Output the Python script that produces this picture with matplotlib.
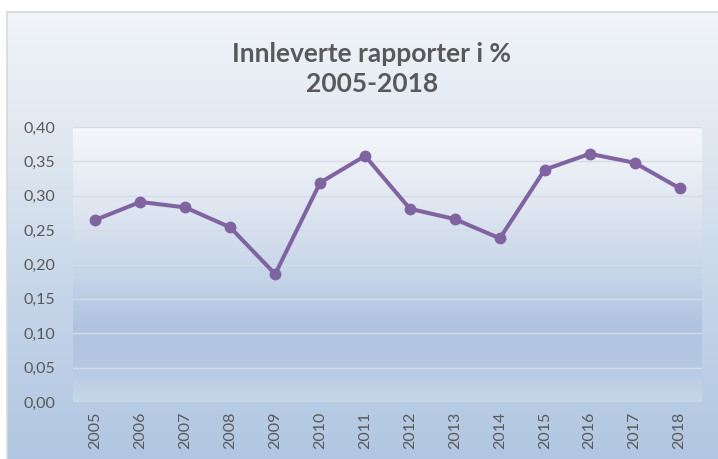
import numpy as np
import matplotlib
matplotlib.use('Agg')
import matplotlib.pyplot as plt
from matplotlib.colors import LinearSegmentedColormap

years = [str(y) for y in range(2005, 2019)]
values = [0.265, 0.291, 0.283, 0.254, 0.186, 0.319, 0.358,
          0.281, 0.266, 0.238, 0.338, 0.361, 0.348, 0.311]
yticks = [0.00, 0.05, 0.10, 0.15, 0.20, 0.25, 0.30, 0.35, 0.40]
ytick_labels = ["0,00", "0,05", "0,10", "0,15", "0,20", "0,25", "0,30", "0,35", "0,40"]
title = "Innleverte rapporter i %\n2005-2018"

W, H = 718, 459
fig = plt.figure(figsize=(W / 100, H / 100), dpi=100)
fig.patch.set_facecolor('white')

# outer chart area with gradient
bg = fig.add_axes([7 / W, 0, 1 - 7 / W, 447 / H], zorder=0)
grad = np.linspace(0, 1, 256).reshape(-1, 1)
cmap_bg = LinearSegmentedColormap.from_list('bg', ['#f1f4f9', '#dde6f0', '#c3d4e8', '#b1c7e1'])
bg.imshow(grad, aspect='auto', cmap=cmap_bg, extent=[0, 1, 0, 1], interpolation='bicubic')
bg.set_xlim(0, 1)
bg.set_ylim(0, 1)
bg.set_xticks([])
bg.set_yticks([])
for name, s in bg.spines.items():
    if name in ('left', 'top'):
        s.set_color('#d9d9d9')
        s.set_linewidth(1.2)
    else:
        s.set_visible(False)

# plot area
ax = fig.add_axes([73 / W, 1 - 402 / H, (702 - 73) / W, (402 - 127) / H], zorder=1)
ax.set_facecolor('none')
cmap_pa = LinearSegmentedColormap.from_list(
    'pa', [(0.0, '#f5f7fa'), (0.25, '#e2e9f2'), (0.55, '#c5d4e8'), (0.72, '#b0c4e0'),
           (0.85, '#b4c7e2'), (1.0, '#c7d7ea')])
ax.imshow(grad, aspect='auto', cmap=cmap_pa, extent=[0, 1, 0, 1],
          transform=ax.transAxes, zorder=0, interpolation='bicubic')

x = np.arange(len(years))
ax.plot(x, values, color='#8064a2', linewidth=2.9, marker='o', markersize=7.5,
        markerfacecolor='#8064a2', markeredgecolor='#8064a2', zorder=3,
        solid_joinstyle='round')

ax.set_xlim(-0.5, len(years) - 0.5)
ax.set_ylim(0, 0.40)
ax.set_yticks(yticks)
ax.set_yticklabels(ytick_labels)
ax.set_xticks(x)
ax.set_xticklabels(years, rotation=90)
ax.set_aspect('auto')

ax.grid(axis='y', color='#d5dbe4', linewidth=1.0, zorder=1)
ax.set_axisbelow(True)
for s in ax.spines.values():
    s.set_visible(False)

ax.tick_params(axis='both', length=0, colors='#595959', labelsize=11.5)
ax.tick_params(axis='y', pad=13)
ax.tick_params(axis='x', pad=7)
for lab in ax.get_xticklabels() + ax.get_yticklabels():
    lab.set_fontfamily('Lato')

fig.text(372 / W, 1 - 69 / H, title, ha='center', va='center', fontsize=19,
         fontweight='bold', color='#595959', family='Lato', linespacing=1.35)

fig.savefig('out.png', dpi=100)
